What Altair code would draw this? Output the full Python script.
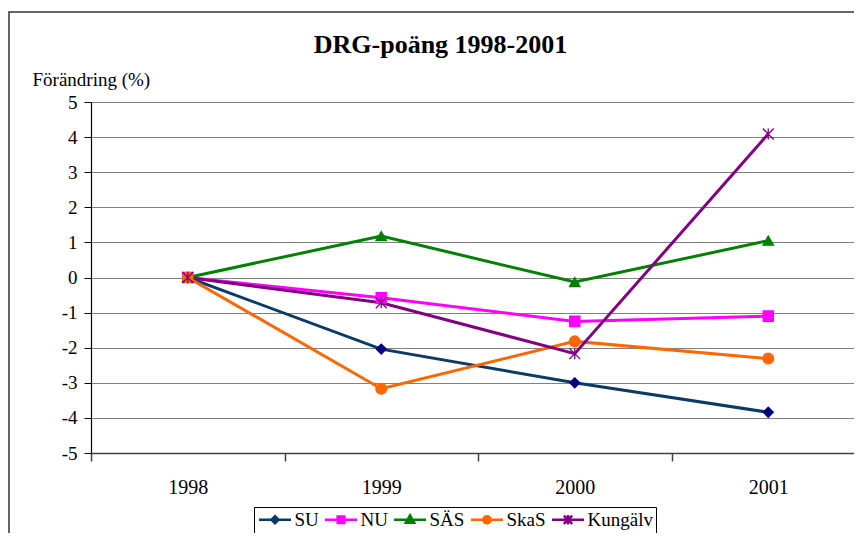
import altair as alt
import pandas as pd

years = ["1998", "1999", "2000", "2001"]
series_names = ["SU", "NU", "SÄS", "SkaS", "Kungälv"]
su = [0.0, -2.04, -3.00, -3.84]
nu = [0.0, -0.58, -1.25, -1.10]
sas = [0.0, 1.18, -0.13, 1.05]
skas = [0.0, -3.17, -1.82, -2.31]
kungalv = [0.0, -0.72, -2.17, 4.09]
y_ticks = [-5, -4, -3, -2, -1, 0, 1, 2, 3, 4, 5]

line_colors = ["#0B3A66", "#FF00FF", "#008000", "#FF6600", "#800080"]
marker_colors = ["#000080", "#FF00FF", "#008000", "#FF6600", "#800080"]
marker_shapes = ["diamond", "square", "triangle-up", "circle",
                 "M-1,-1L1,1M-1,1L1,-1M0,-1L0,1"]
marker_sizes = [100, 120, 130, 110, 144]
legend_shapes = [
    "M-2.67,0L2.67,0M0,-0.6L0.6,0L0,0.6L-0.6,0Z",
    "M-2.67,0L2.67,0M-0.55,-0.55L0.55,-0.55L0.55,0.55L-0.55,0.55Z",
    "M-2.67,0L2.67,0M0,-0.75L0.7,0.5L-0.7,0.5Z",
    "M-2.67,0L2.67,0M0.6,0A0.6,0.6 0 1,1 -0.6,0A0.6,0.6 0 1,1 0.6,0Z",
    "M-2.67,0L2.67,0M-0.7,-0.7L0.7,0.7M-0.7,0.7L0.7,-0.7M0,-0.8L0,0.8",
]

values = {"SU": su, "NU": nu, "SÄS": sas, "SkaS": skas, "Kungälv": kungalv}
rows = []
for name in series_names:
    for yr, v in zip(years, values[name]):
        rows.append({"series": name, "year": yr, "value": v})
df = pd.DataFrame(rows)

FONT = "Times New Roman, Liberation Serif, DejaVu Serif, serif"

x_enc = alt.X(
    "year:O",
    scale=alt.Scale(type="band", domain=years, paddingInner=0, paddingOuter=0,
                    range=[0, 774]),
    axis=alt.Axis(
        title=None, labelAngle=0, tickBand="extent", grid=False,
        domainColor="#404040", domainWidth=1.5, tickColor="#404040",
        tickWidth=1.5, tickSize=8, labelPadding=16, labelFontSize=20,
        labelFont=FONT, labelColor="#000",
    ),
)
y_enc = alt.Y(
    "value:Q",
    scale=alt.Scale(domain=[-5, 5], nice=False),
    axis=alt.Axis(
        values=y_ticks, title="Förändring (%)", titleAngle=0, titleX=-59,
        titleY=-17, titleAlign="left", titleBaseline="alphabetic",
        titleFont=FONT, titleFontSize=19, titleFontWeight="normal",
        titleColor="#000", labelFont=FONT, labelFontSize=19,
        labelColor="#000", labelPadding=7, tickSize=7, tickColor="#000",
        domainColor="#000", domainWidth=1.2, grid=True, gridColor="#808080",
        gridWidth=1, labelExpr="'' + datum.value",
    ),
)

base = alt.Chart(df)

lines = base.mark_line(strokeWidth=3).encode(
    x=x_enc, y=y_enc,
    color=alt.Color("series:N", scale=alt.Scale(domain=series_names, range=line_colors), legend=None),
    detail="series:N",
)

points = base.mark_point(filled=True, strokeWidth=1.3, opacity=1).encode(
    x=x_enc, y=y_enc,
    fill=alt.Fill("series:N", scale=alt.Scale(domain=series_names, range=marker_colors), legend=None),
    stroke=alt.Stroke("series:N", scale=alt.Scale(domain=series_names, range=marker_colors), legend=None),
    shape=alt.Shape("series:N", scale=alt.Scale(domain=series_names, range=marker_shapes), legend=None),
    size=alt.Size("series:N", scale=alt.Scale(domain=series_names, range=marker_sizes), legend=None),
)

leg = alt.Legend(
    title=None, orient="none", legendX=163, legendY=405, direction="horizontal",
    columns=5, symbolSize=144, symbolStrokeWidth=2.5, symbolOffset=8.5,
    labelOffset=10, labelFont=FONT, labelFontSize=19, labelColor="#000",
    columnPadding=0, padding=3, strokeColor="#000", fillColor="#fff",
    symbolOpacity=1, labelLimit=200,
)
legend_layer = base.mark_point(filled=True, opacity=0).encode(
    x=x_enc, y=y_enc,
    fill=alt.Fill("series:N", scale=alt.Scale(domain=series_names, range=marker_colors), legend=leg),
    stroke=alt.Stroke("series:N", scale=alt.Scale(domain=series_names, range=line_colors), legend=leg),
    shape=alt.Shape("series:N", scale=alt.Scale(domain=series_names, range=legend_shapes), legend=leg),
)

frame = alt.Chart(pd.DataFrame({"f": [1]})).mark_rect(
    fill=None, stroke="#333", strokeWidth=1.5, clip=False
).encode(
    x=alt.value(-82), x2=alt.value(900), y=alt.value(-90), y2=alt.value(700)
)

chart = alt.layer(frame, lines, points, legend_layer).resolve_scale(
    fill="independent", stroke="independent", shape="independent"
).properties(
    width=763, height=351,
    padding={"left": 83, "top": 94, "right": 0, "bottom": 80},
    autosize=alt.AutoSizeParams(type="none"),
    title=alt.TitleParams(
        "DRG-poäng 1998-2001", font=FONT, fontSize=26, fontWeight="bold",
        color="#000", anchor="middle", dx=-32, offset=-47,
    ),
).configure_view(stroke=None).configure(background="#fff")

chart.save("out.html", embed_options={"renderer": "svg", "actions": False})
